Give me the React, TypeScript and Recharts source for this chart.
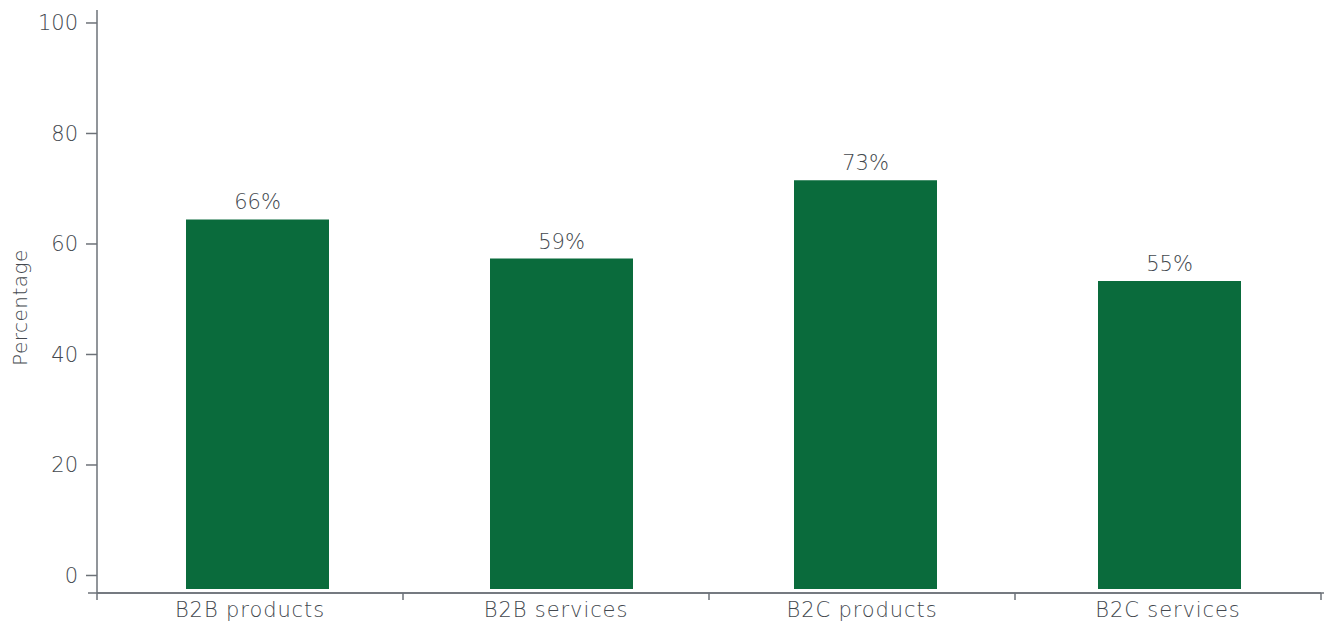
import { BarChart, Bar, XAxis, YAxis, LabelList, ReferenceLine } from 'recharts';

const categories = ['B2B products', 'B2B services', 'B2C products', 'B2C services'];
const shares = [66, 59, 73, 55];
const yTicks = [0, 20, 40, 60, 80, 100];
const boundaries = [0, 1, 2, 3, 4];

const data = categories.map((name, i) => ({ name, share: shares[i], pos: i + 0.5 }));

const TEXT = '#43484e';
const AXIS = '#6d7278';
const GREEN = '#0a6b3c';

const tickStyle = { fill: TEXT, fontSize: 21, fontWeight: 300 };

const YTitle = (props: any) => {
  const vb = props.viewBox;
  const cy = vb.y + vb.height / 2 + 6;
  return (
    <text x={27} y={cy} transform={`rotate(-90, 27, ${cy})`} textAnchor="middle"
      fill={TEXT} fontSize={20} fontWeight={300} letterSpacing={0.5}>
      Percentage
    </text>
  );
};

export default function App() {
  return (
    <div style={{ position: 'absolute', left: 0, top: 0, fontFamily: '"DejaVu Sans", sans-serif' }}>
      <BarChart width={1324} height={621} data={data}
        margin={{ top: 10, right: 3, bottom: 0, left: 0 }}>
        {/* boundary ticks + baseline */}
        <XAxis xAxisId="a" type="number" dataKey="pos" domain={[0, 4]} ticks={boundaries}
          allowDataOverflow height={1} tickFormatter={() => ''} tickSize={7}
          axisLine={{ stroke: AXIS, strokeWidth: 1.5 }} tickLine={{ stroke: AXIS, strokeWidth: 1.5 }} />
        <XAxis xAxisId="b" dataKey="name" interval={0} height={27}
          axisLine={false} tickLine={false} tickSize={6} tickMargin={2}
          tick={{ ...tickStyle, letterSpacing: 0.9 }} />
        <XAxis xAxisId="c" dataKey="name" hide height={0} padding={{ left: 8, right: 0 }} />
        <YAxis yAxisId="pct" type="number" domain={[-3.17, 102.35]} allowDataOverflow
          ticks={yTicks} width={97} tickSize={11} tickMargin={8} tick={tickStyle}
          axisLine={{ stroke: AXIS, strokeWidth: 1.5 }} tickLine={{ stroke: AXIS, strokeWidth: 1.5 }}
          label={<YTitle />} />
        <YAxis yAxisId="bars" type="number" domain={[-0.714, 103.39]} allowDataOverflow hide width={0} />
        <ReferenceLine xAxisId="a" yAxisId="pct" ifOverflow="visible"
          segment={[{ x: -9 / 306, y: -3.17 }, { x: 4 + 3 / 306, y: -3.17 }]}
          stroke={AXIS} strokeWidth={1.5} />
        <Bar xAxisId="c" yAxisId="bars" dataKey="share" fill={GREEN} barSize={143}
          isAnimationActive={false}>
          <LabelList dataKey="share" position="top" offset={10}
            formatter={(v: any) => `${v}%`} fill={TEXT} fontSize={21} fontWeight={300} />
        </Bar>
      </BarChart>
    </div>
  );
}
